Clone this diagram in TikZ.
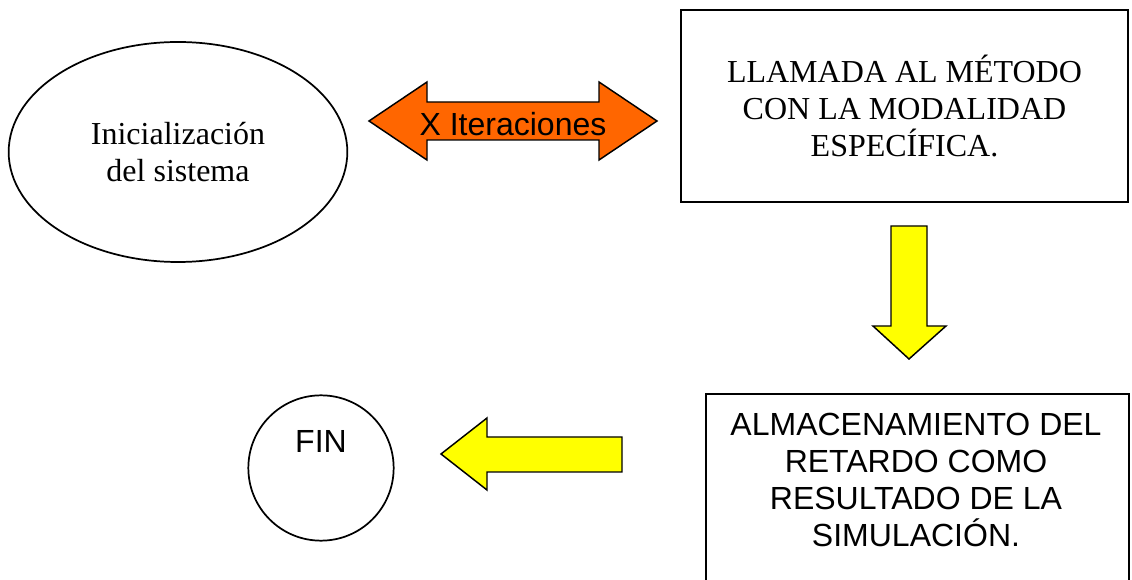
\documentclass[tikz,border=0pt]{standalone}
\usepackage{fontspec}
\setmainfont{Liberation Serif}
\setsansfont{Liberation Sans}
\usepackage{xcolor}
\usepackage{tikz}
\usetikzlibrary{shapes.geometric, positioning, calc}
\definecolor{iter-color}{RGB}{255,102,0}
\definecolor{step-color}{RGB}{255,255,0}
\tikzset{
    boxtext/.style = {font=\fontsize{24}{27.6}\selectfont, align=center, inner sep=0pt},
    sanstext/.style = {boxtext, font=\sffamily\fontsize{24}{27.6}\selectfont},
    plainbox/.style = {draw, line width=1.6pt, rectangle},
    blockarrow/.style = {draw, line width=1.1pt, line join=miter}
}

\begin{document}
\begin{tikzpicture}[x=0.75pt, y=-0.75pt]
\clip (0,0) rectangle (1132,580);

%start
\node [draw, ellipse, line width=1.3pt, boxtext, minimum width=254pt, minimum height=165pt]
    (init) at (178,152) {Inicializaci\'on\\del sistema};

%iterations
\filldraw [blockarrow, fill=iter-color] (369,121) -- (427,82) -- (427,102) -- (599,102) -- (599,82)
    -- (657,121) -- (599,160) -- (599,140) -- (427,140) -- (427,160) -- cycle;
\node [sanstext] (iter) at (513,124) {X Iteraciones};

%method call
\node [plainbox, boxtext, minimum width=335pt, minimum height=144pt]
    (call) at (904.5,106) {LLAMADA AL M\'ETODO\\CON LA MODALIDAD\\ESPEC\'IFICA.};

%down
\filldraw [blockarrow, fill=step-color] (891,226) -- (927,226) -- (927,326) -- (946,326)
    -- (909,359) -- (873,326) -- (891,326) -- cycle;

%store result
\node [plainbox, minimum width=317pt, minimum height=180pt, anchor=north west]
    (store) at (705,393) {};
\node [sanstext] (store-text) at (916,480)
    {ALMACENAMIENTO DEL\\RETARDO COMO\\RESULTADO DE LA\\SIMULACI\'ON.};

%left
\filldraw [blockarrow, fill=step-color] (441,454) -- (487,418) -- (487,437) -- (622,437)
    -- (622,472) -- (487,472) -- (487,490) -- cycle;

%end
\node [draw, circle, line width=1.3pt, minimum size=109pt] (fin) at (321,468) {};
\node [sanstext] (fin-text) at (321,441) {FIN};

\end{tikzpicture}
\end{document}
